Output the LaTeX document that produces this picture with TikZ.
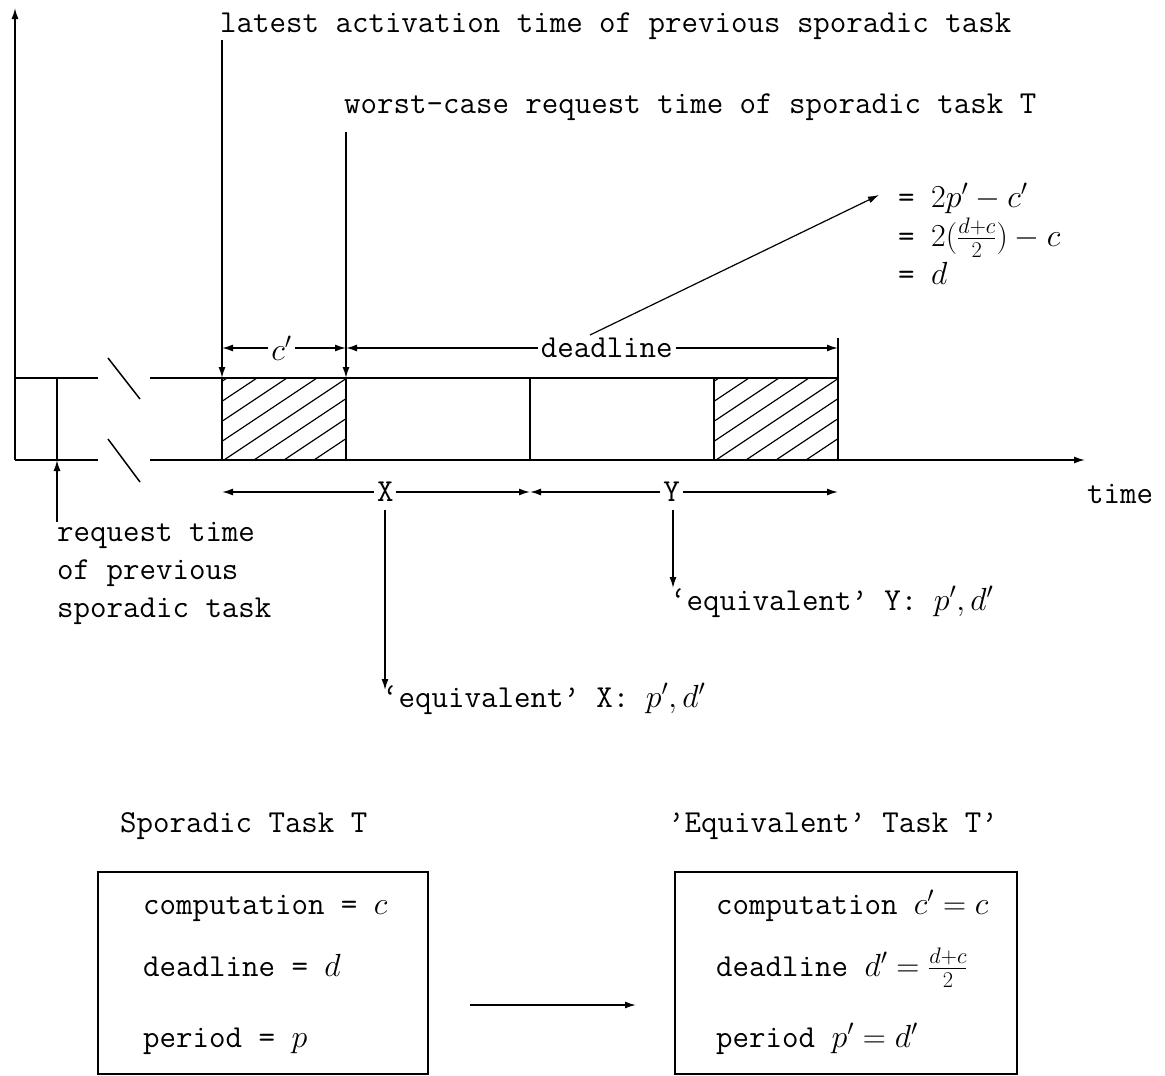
\RequirePackage{fix-cm}
\documentclass[tikz,border=0pt]{standalone}
\usepackage{fontspec}
\usetikzlibrary{arrows.meta}
\tikzset{
  ln/.style={line width=1.5pt},
  tip/.style={-{Latex[length=11pt,width=7pt]}},
  dtip/.style={{Latex[length=11pt,width=7pt]}-{Latex[length=11pt,width=7pt]}},
  lbl/.style={inner sep=0pt, anchor=base west, font=\fontsize{32}{38}\selectfont\ttfamily},
  dimlbl/.style={inner sep=3pt, fill=white, font=\fontsize{32}{38}\selectfont\ttfamily},
  hatch/.style={line width=1.2pt},
}
\begin{document}
\begin{tikzpicture}[x=1pt,y=-1pt]
\useasboundingbox (0,0) rectangle (1165,1076);
% axes
\coordinate (o) at (15,460);
\coordinate (ytop) at (15,8);
\coordinate (tend) at (1085,460);
\draw[ln,tip] (o) -- (ytop);
\draw[ln] (o) -- (98,460);
\draw[ln,tip] (150,460) -- (tend);
\draw[ln] (15,378) -- (98,378);
\draw[ln] (150,378) -- (838,378);
% break marks
\draw[ln] (108,358) -- (140,399);
\draw[ln] (108,439) -- (140,482);
% previous request
\coordinate (rq) at (57,522);
\coordinate (rqt) at (57,460);
\draw[ln] (57,378) -- (rqt);
\draw[ln,tip] (rq) -- (rqt);
% task boxes
\draw[ln] (222,378) -- (222,460);
\draw[ln] (346,378) -- (346,460);
\draw[ln] (530,378) -- (530,460);
\draw[ln] (714,378) -- (714,460);
\draw[ln] (838,338) -- (838,460);
% hatching
\begin{scope}
\clip (222,378) rectangle (346,460);
\foreach \k in {-4,...,4} {\draw[hatch] (224+30*\k,460) -- (224+30*\k+123,378);}
\end{scope}
\begin{scope}
\clip (714,378) rectangle (838,460);
\foreach \k in {-4,...,4} {\draw[hatch] (716+30*\k,460) -- (716+30*\k+123,378);}
\end{scope}
% activation arrows
\coordinate (la0) at (222,40);
\coordinate (la1) at (222,378);
\coordinate (wc0) at (346,132);
\coordinate (wc1) at (346,378);
\draw[ln,tip] (la0) -- (la1);
\draw[ln,tip] (wc0) -- (wc1);
\node[lbl] (latest) at (220,32) {latest activation time of previous sporadic task};
\node[lbl] (worst) at (344,113) {worst-case request time of sporadic task T};
% dimensions
\draw[ln,dtip] (222,348) -- (346,348) node[dimlbl, pos=0.48] (cp) {$c'$};
\draw[ln,dtip] (346,348) -- (838,348) node[dimlbl, pos=0.53] (dl) {deadline};
\coordinate (eqtip) at (879,195);
\draw[line width=1.2pt,tip] (590,335) -- (eqtip);
\node[lbl] (eq1) at (898,207) {= $2p'-c'$};
\node[lbl] (eq2) at (898,246) {= $2(\frac{d+c}{2})-c$};
\node[lbl] (eq3) at (898,284) {= $d$};
\draw[ln,dtip] (222,492) -- (530,492) node[dimlbl, pos=0.53] (X) {X};
\draw[ln,dtip] (530,492) -- (838,492) node[dimlbl, pos=0.46] (Y) {Y};
\node[lbl] (time) at (1087,503) {time};
\coordinate (xe) at (385,690);
\coordinate (ye) at (673,588);
\draw[ln,tip] (385,510) -- (xe);
\draw[ln,tip] (673,510) -- (ye);
\node[lbl] (eqY) at (670,610) {‘equivalent’ Y: $p',d'$};
\node[lbl] (eqX) at (382,707) {‘equivalent’ X: $p',d'$};
\node[lbl, align=left, anchor=north west] (req) at (57,522) {request time\\of previous\\sporadic task};
% bottom
\node[lbl] (spt) at (120,832) {Sporadic Task T};
\node[lbl] (eqt) at (668,832) {’Equivalent’ Task T’};
\draw[ln] (98,872) rectangle (428,1074);
\draw[ln] (675,872) rectangle (1017,1074);
\node[lbl] at (143,914) {computation = $c$};
\node[lbl] at (143,976) {deadline = $d$};
\node[lbl] at (143,1047) {period = $p$};
\node[lbl] at (716,914) {computation $c'=c$};
\node[lbl] at (716,976) {deadline $d'=\frac{d+c}{2}$};
\node[lbl] at (716,1047) {period $p'=d'$};
\coordinate (ba0) at (470,1005);
\coordinate (ba1) at (636,1005);
\draw[ln,tip] (ba0) -- (ba1);
\end{tikzpicture}
\end{document}
